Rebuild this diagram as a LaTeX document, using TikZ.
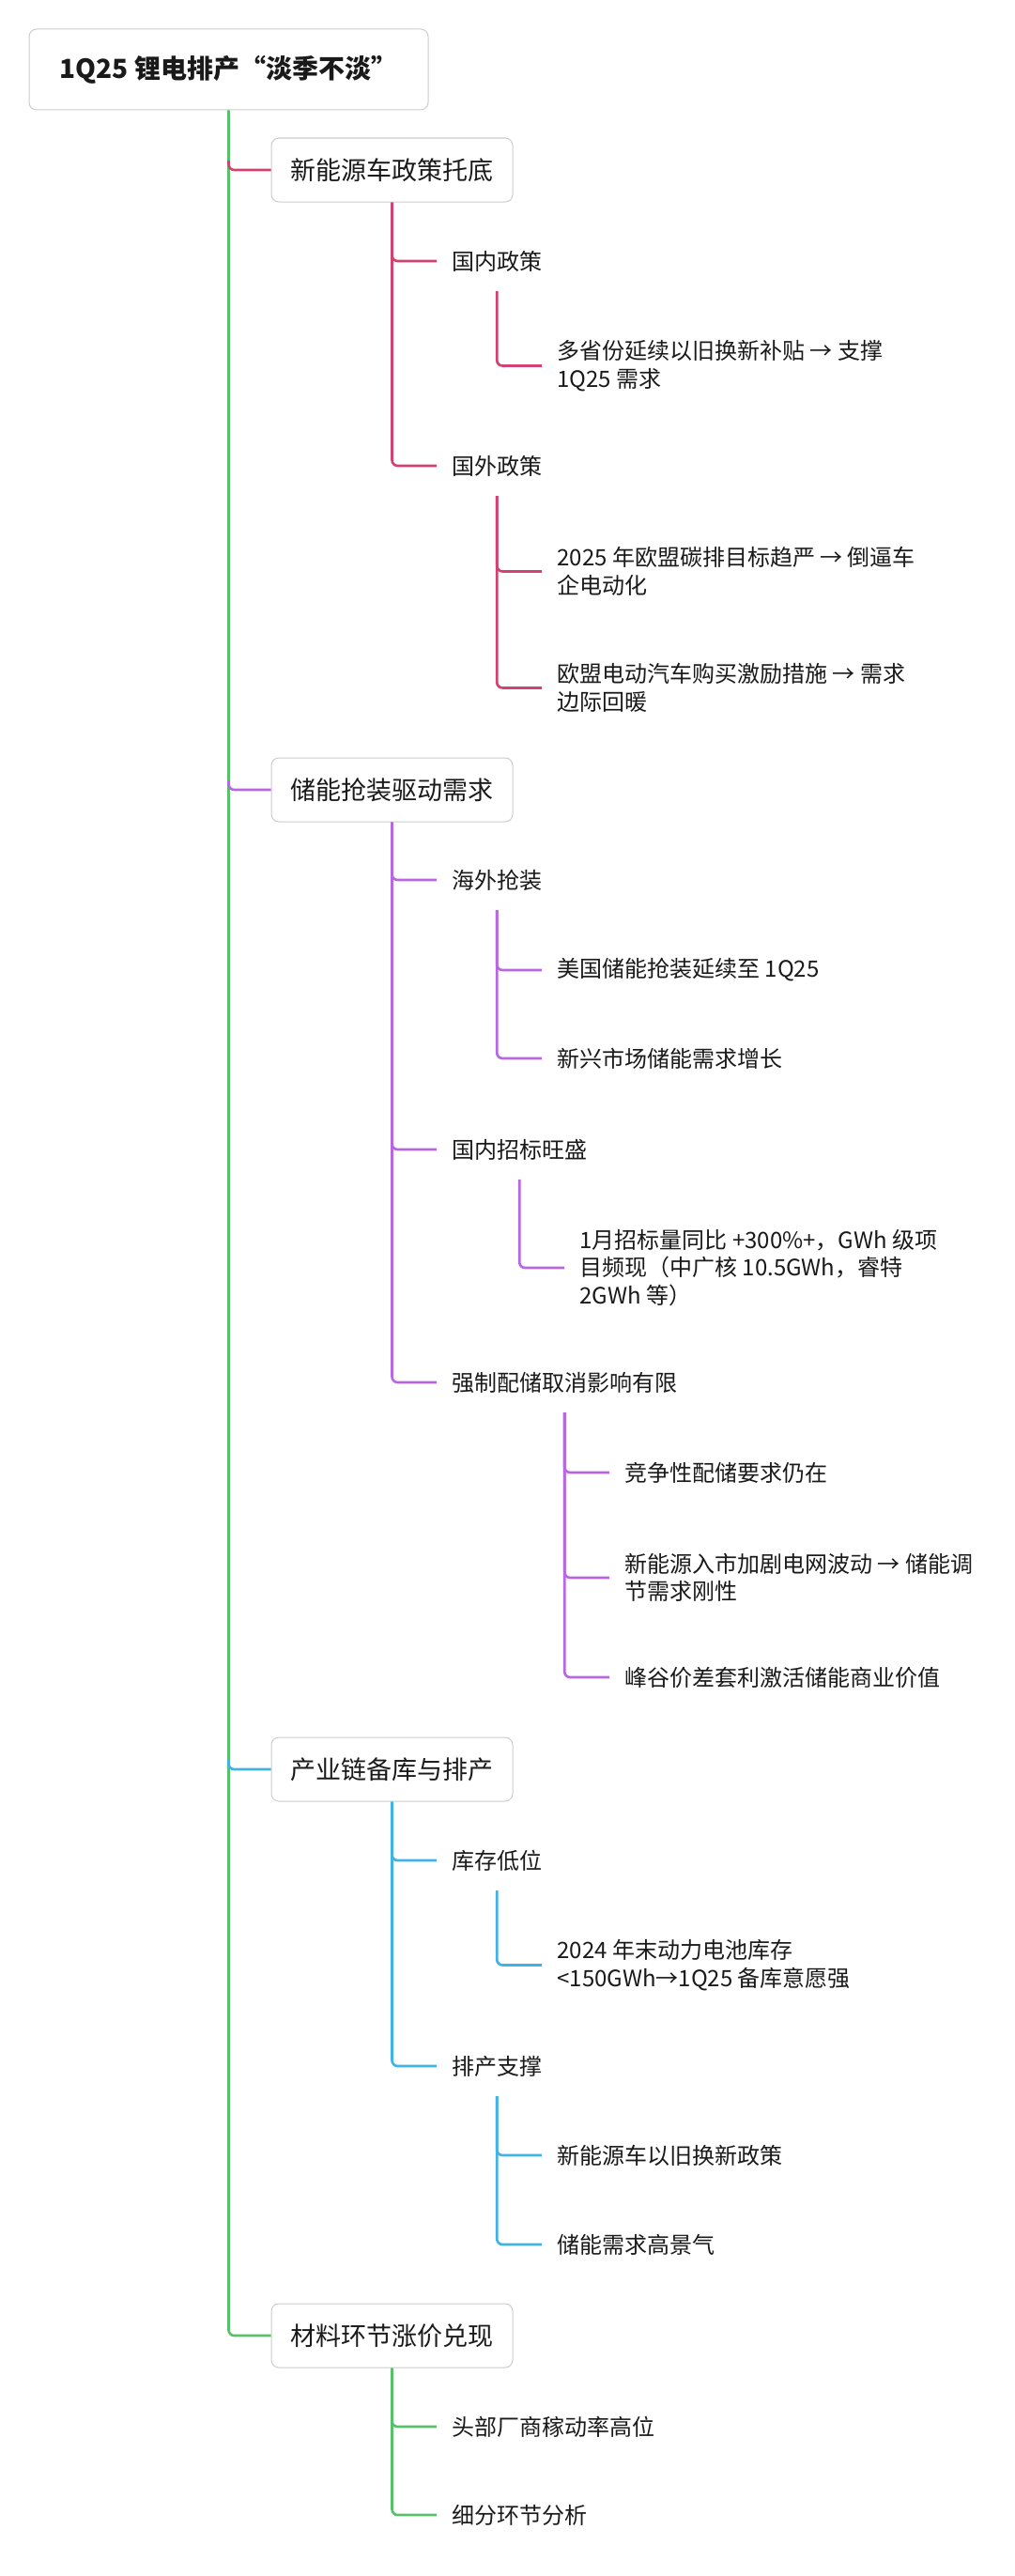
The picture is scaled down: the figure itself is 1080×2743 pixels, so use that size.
\documentclass[tikz,border=0pt]{standalone}
\usepackage{fontspec}
\setmainfont{Noto Sans CJK SC}
\usetikzlibrary{calc}
\definecolor{cgreen}{HTML}{58C068}
\definecolor{cpink}{HTML}{D2416F}
\definecolor{cpurple}{HTML}{B866E3}
\definecolor{cblue}{HTML}{3FB2E6}
\definecolor{boxgray}{HTML}{CCCCCC}
\definecolor{txt}{HTML}{1A1A1A}
\tikzset{
  conn/.style={line width=2.6pt, rounded corners=6pt},
  rootbox/.style={draw=boxgray, fill=white, line width=1pt, rounded corners=8pt,
    minimum width=425pt, minimum height=86pt, inner sep=0pt, text=txt,
    font=\fontsize{28pt}{33pt}\selectfont\bfseries},
  topicbox/.style={draw=boxgray, fill=white, line width=1pt, rounded corners=8pt,
    minimum width=257pt, minimum height=68pt, inner sep=0pt, text=txt,
    font=\fontsize{27pt}{32pt}\selectfont},
  subtext/.style={anchor=west, inner xsep=16pt, inner ysep=0pt, align=left, text=txt,
    font=\fontsize{24pt}{29.5pt}\selectfont},
}
\begin{document}
\begin{tikzpicture}[x=1pt,y=-1pt]
\fill[white] (0,0) rectangle (1080,2743);
\useasboundingbox (0,0) rectangle (1080,2743);

% root and topics
\node[rootbox] (root) at (243.5,74) {1Q25 锂电排产“淡季不淡”};
\node[topicbox] (ta) at (417.5,181) {新能源车政策托底};
\node[topicbox] (tb) at (417.5,841) {储能抢装驱动需求};
\node[topicbox] (tc) at (417.5,1884) {产业链备库与排产};
\node[topicbox] (td) at (417.5,2487) {材料环节涨价兑现};

% level 2
\node[subtext] (dom) at (465,278) {国内政策};
\node[subtext] (abr) at (465,496) {国外政策};
\node[subtext] (hw) at (465,937) {海外抢装};
\node[subtext] (zb) at (465,1224) {国内招标旺盛};
\node[subtext] (qz) at (465,1472) {强制配储取消影响有限};
\node[subtext] (kc) at (465,1981) {库存低位};
\node[subtext] (pc) at (465,2200) {排产支撑};
\node[subtext] (tbh) at (465,2584) {头部厂商稼动率高位};
\node[subtext] (xf) at (465,2678) {细分环节分析};

% level 3
\node[subtext] (d1) at ($(dom.center |- 0,389.5)+(48,0)$) {多省份延续以旧换新补贴 → 支撑\\1Q25 需求};
\node[subtext] (a1) at ($(abr.center |- 0,608.5)+(48,0)$) {2025 年欧盟碳排目标趋严 → 倒逼车\\企电动化};
\node[subtext] (a2) at ($(abr.center |- 0,732.5)+(48,0)$) {欧盟电动汽车购买激励措施 → 需求\\边际回暖};
\node[subtext] (h1) at ($(hw.center |- 0,1033)+(48,0)$) {美国储能抢装延续至 1Q25};
\node[subtext] (h2) at ($(hw.center |- 0,1127)+(48,0)$) {新兴市场储能需求增长};
\node[subtext] (z1) at ($(zb.center |- 0,1350)+(48,0)$) {1月招标量同比 +300\%+，GWh 级项\\目频现（中广核 10.5GWh，睿特\\2GWh 等）};
\node[subtext] (q1) at ($(qz.center |- 0,1568)+(48,0)$) {竞争性配储要求仍在};
\node[subtext] (q2) at ($(qz.center |- 0,1680)+(48,0)$) {新能源入市加剧电网波动 → 储能调\\节需求刚性};
\node[subtext] (q3) at ($(qz.center |- 0,1786)+(48,0)$) {峰谷价差套利激活储能商业价值};
\node[subtext] (k1) at ($(kc.center |- 0,2092.5)+(48,0)$) {2024 年末动力电池库存\\<150GWh→1Q25 备库意愿强};
\node[subtext] (p1) at ($(pc.center |- 0,2295)+(48,0)$) {新能源车以旧换新政策};
\node[subtext] (p2) at ($(pc.center |- 0,2390)+(48,0)$) {储能需求高景气};

% trunk
\draw[conn, cgreen] (root.south) |- (td.west);
\draw[conn, cpink] ($(root.south |- ta.west)+(0,-10)$) |- (ta.west);
\draw[conn, cpurple] ($(root.south |- tb.west)+(0,-10)$) |- (tb.west);
\draw[conn, cblue] ($(root.south |- tc.west)+(0,-10)$) |- (tc.west);

% topic A
\draw[conn, cpink] (ta.south) |- (dom.west);
\draw[conn, cpink] (ta.south) |- (abr.west);
\draw[conn, cpink] ([yshift=-32pt]dom.center) |- (d1.west);
\draw[conn, cpink] ([yshift=-32pt]abr.center) |- (a1.west);
\draw[conn, cpink] ([yshift=-32pt]abr.center) |- (a2.west);

% topic B
\draw[conn, cpurple] (tb.south) |- (hw.west);
\draw[conn, cpurple] (tb.south) |- (zb.west);
\draw[conn, cpurple] (tb.south) |- (qz.west);
\draw[conn, cpurple] ([yshift=-32pt]hw.center) |- (h1.west);
\draw[conn, cpurple] ([yshift=-32pt]hw.center) |- (h2.west);
\draw[conn, cpurple] ([yshift=-32pt]zb.center) |- (z1.west);
\draw[conn, cpurple] ([yshift=-32pt]qz.center) |- (q1.west);
\draw[conn, cpurple] ([yshift=-32pt]qz.center) |- (q2.west);
\draw[conn, cpurple] ([yshift=-32pt]qz.center) |- (q3.west);

% topic C
\draw[conn, cblue] (tc.south) |- (kc.west);
\draw[conn, cblue] (tc.south) |- (pc.west);
\draw[conn, cblue] ([yshift=-32pt]kc.center) |- (k1.west);
\draw[conn, cblue] ([yshift=-32pt]pc.center) |- (p1.west);
\draw[conn, cblue] ([yshift=-32pt]pc.center) |- (p2.west);

% topic D
\draw[conn, cgreen] (td.south) |- (tbh.west);
\draw[conn, cgreen] (td.south) |- (xf.west);
\end{tikzpicture}
\end{document}
